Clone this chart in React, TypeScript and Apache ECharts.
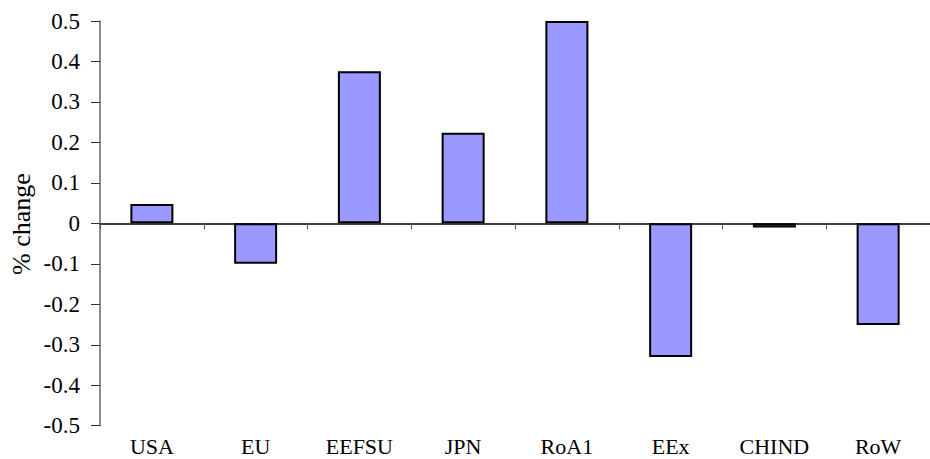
import React, { useEffect, useRef } from "react";
import * as echarts from "echarts";

const categories = ["USA", "EU", "EEFSU", "JPN", "RoA1", "EEx", "CHIND", "RoW"];
const values = [0.048, -0.1, 0.376, 0.224, 0.5, -0.33, -0.01, -0.251];
const yMin = -0.5;
const yMax = 0.5;
const yStep = 0.1;
const yTitle = "% change";

export default function App() {
  const ref = useRef<HTMLDivElement>(null);
  useEffect(() => {
    if (!ref.current) return;
    const chart = echarts.init(ref.current, null, { renderer: "svg" });
    const font = "Liberation Serif";
    chart.setOption({
      animation: false,
      backgroundColor: "#ffffff",
      textStyle: { fontFamily: font },
      grid: { left: 100, top: 21, bottom: 33.3, right: -8, containLabel: false },
      xAxis: [
        {
          type: "category",
          data: categories,
          position: "bottom",
          axisLine: { onZero: true, lineStyle: { color: "#000", width: 1.5 } },
          axisTick: { show: true, inside: false, length: 6, lineStyle: { color: "#555", width: 1 } },
          axisLabel: { show: false },
          splitLine: { show: false },
        },
        {
          type: "category",
          data: categories,
          position: "bottom",
          axisLine: { show: false, onZero: false },
          axisTick: { show: false },
          axisLabel: { show: true, margin: 10, color: "#000", fontFamily: font, fontSize: 22 },
          splitLine: { show: false },
        },
      ],
      yAxis: {
        type: "value",
        min: yMin,
        max: yMax,
        interval: yStep,
        axisLine: { show: true, lineStyle: { color: "#666", width: 1.5 } },
        axisTick: { show: true, length: 9, lineStyle: { color: "#333", width: 1 } },
        axisLabel: {
          margin: 20,
          color: "#000",
          fontFamily: font,
          fontSize: 23,
          formatter: (v: number) => {
            const r = Math.round(v * 10) / 10;
            return r === 0 ? "0" : String(r);
          },
        },
        splitLine: { show: false },
      },
      graphic: [
        {
          type: "text",
          x: 21,
          y: 224,
          rotation: Math.PI / 2,
          style: {
            text: yTitle,
            fontFamily: font,
            fontSize: 26,
            fill: "#000",
            textAlign: "center",
            textVerticalAlign: "middle",
          },
        },
      ],
      series: [
        {
          type: "bar",
          xAxisIndex: 0,
          data: values,
          barWidth: 43,
          itemStyle: { color: "#9999FF", borderColor: "#000", borderWidth: 2 },
        },
      ],
    });
    return () => chart.dispose();
  }, []);
  return (
    <div
      ref={ref}
      style={{ position: "absolute", left: 0, top: 0, width: 930, height: 459 }}
    />
  );
}
